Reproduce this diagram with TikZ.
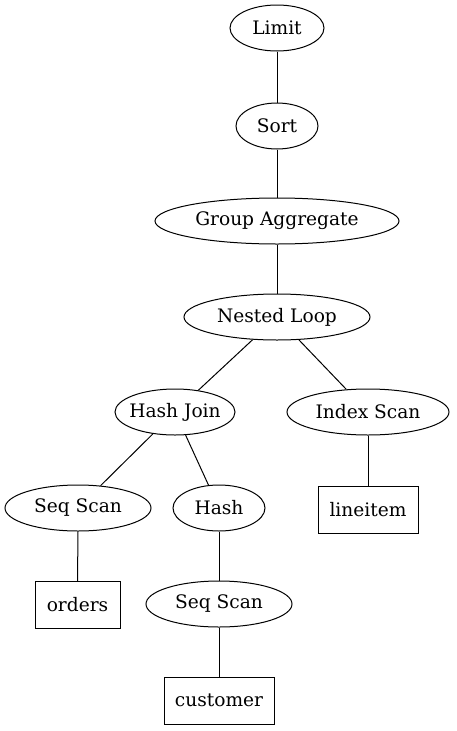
\documentclass[tikz,border=0pt]{standalone}
\usepackage{fontspec}
\setmainfont{DejaVu Serif}
\usetikzlibrary{shapes.geometric}
\begin{document}
\begin{tikzpicture}[x=1pt,y=-1pt,line width=1pt,
  ell/.style={draw,ellipse,inner sep=0pt,minimum height=46pt,font=\fontsize{18.6}{20}\selectfont},
  box/.style={draw,rectangle,inner sep=0pt,minimum height=47pt,font=\fontsize{18.6}{20}\selectfont},
  edge/.style={draw}]
\useasboundingbox (0,0) rectangle (456,731);
\node[ell,minimum width=94pt] (limit) at (277,28) {Limit};
\node[ell,minimum width=82pt] (sort) at (277,126) {Sort};
\node[ell,minimum width=244pt] (group) at (277,221) {Group Aggregate};
\node[ell,minimum width=186pt] (nested) at (277,317) {Nested Loop};
\node[ell,minimum width=120pt,inner xsep=-6pt] (hashjoin) at (175,412) {Hash Join};
\node[ell,minimum width=162pt] (index) at (368,412) {Index Scan};
\node[ell,minimum width=146pt] (seq1) at (78,508) {Seq Scan};
\node[ell,minimum width=92pt] (hash) at (219,508) {Hash};
\node[box,minimum width=100pt] (lineitem) at (368,509.5) {lineitem};
\node[box,minimum width=85pt] (orders) at (77.5,605) {orders};
\node[ell,minimum width=146pt] (seq2) at (219,604) {Seq Scan};
\node[box,minimum width=110pt] (customer) at (219,700.5) {customer};
\draw[edge] (limit) -- (sort);
\draw[edge] (sort) -- (group);
\draw[edge] (group) -- (nested);
\draw[edge] (nested) -- (hashjoin);
\draw[edge] (nested) -- (index);
\draw[edge] (hashjoin) -- (seq1);
\draw[edge] (hashjoin) -- (hash);
\draw[edge] (index) -- (lineitem);
\draw[edge] (seq1) -- (orders);
\draw[edge] (hash) -- (seq2);
\draw[edge] (seq2) -- (customer);
\end{tikzpicture}
\end{document}
